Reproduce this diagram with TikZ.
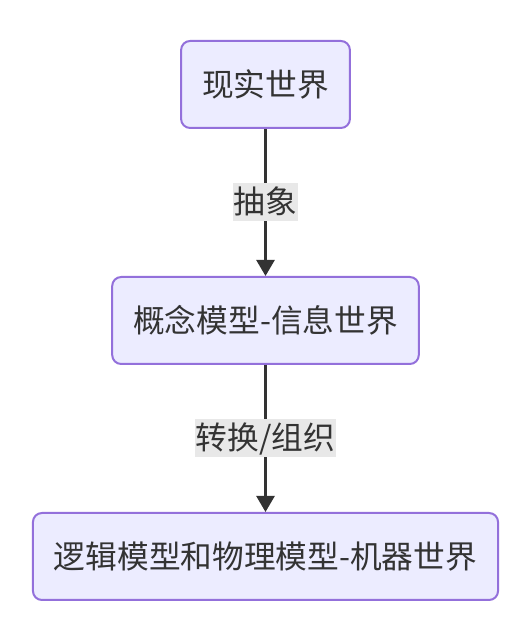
\documentclass[tikz,border=0pt]{standalone}
\usepackage{fontspec}
\setmainfont{Noto Sans CJK SC}
\usetikzlibrary{arrows.meta}
\definecolor{boxfill}{HTML}{ECECFF}
\definecolor{boxline}{HTML}{9370DB}
\definecolor{ink}{HTML}{333333}
\definecolor{labelbg}{HTML}{E8E8E8}
\begin{document}
\begin{tikzpicture}[
	world/.style={
		rectangle,
		draw=boxline,
		line width=2pt,
		fill=boxfill,
		text=ink,
		align=center,
		rounded corners=9pt,
		inner xsep=21pt,
		minimum height=87pt,
		font=\fontsize{31.7pt}{38pt}\selectfont
	},
	edgelabel/.style={
		rectangle,
		fill=labelbg,
		text=ink,
		inner xsep=1pt,
		inner ysep=3pt,
		text height=27pt,
		text depth=5pt,
		font=\fontsize{31.7pt}{38pt}\selectfont
	},
	flow/.style={
		draw=ink,
		line width=2.5pt,
		-{Triangle[length=16pt,width=18pt]}
	},
]

\useasboundingbox (0pt, 0pt) rectangle (530pt, 628pt);

\node[world] (real) at (265.5pt, 543.5pt) {现实世界};
\node[world] (info) at (265.5pt, 307.5pt) {概念模型-信息世界};
\node[world] (machine) at (265.5pt, 71.5pt) {逻辑模型和物理模型-机器世界};

\draw[flow] (real.south) -- node[edgelabel] (abstract) {抽象} (info.north);
\draw[flow] (info.south) -- node[edgelabel] (convert) {转换/组织} (machine.north);

\end{tikzpicture}
\end{document}
